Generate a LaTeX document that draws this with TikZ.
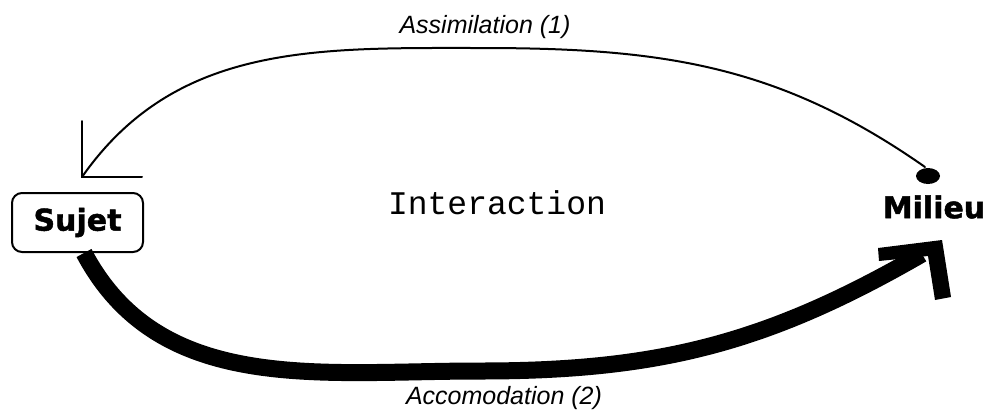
\documentclass[tikz,border=0pt]{standalone}
\usepackage{fontspec}
\setmainfont{Liberation Sans}
\newfontfamily\monof{Liberation Mono}
\newfontfamily\boldf[FakeBold=1.5]{DejaVu Sans Bold}
\begin{document}
\begin{tikzpicture}[x=1pt,y=1pt,
  lbl/.style={font=\itshape\fontsize{25}{25}\selectfont, inner sep=0pt},
  big/.style={font=\boldf\fontsize{30}{30}\selectfont, inner sep=0pt},
  thin/.style={line width=2pt, line cap=round},
  thick/.style={line width=17pt}]
\useasboundingbox (0,0) rectangle (987,-416);
\node[big, draw, line width=2pt, rounded corners=10pt, minimum width=131pt, minimum height=59pt] (sujet) at (77.5,-222.5) {Sujet};
\node[big] (milieu) at (934,-207) {Milieu};
\node[font=\monof\fontsize{33}{33}\selectfont, inner sep=0pt] (inter) at (497,-203) {Interaction};
\node[lbl] (assim) at (485,-27) {Assimilation (1)};
\node[lbl] (accom) at (504,-398) {Accomodation (2)};
% thin arc
\coordinate (tip) at (82,-177);
\coordinate (top) at (480,-48);
\coordinate (dotc) at (928,-176);
\coordinate (dend) at (925,-167);
\draw[thin] (tip) to[out=55,in=180] (top) to[out=0,in=145] (dend);
\fill (dotc) ellipse [x radius=12pt, y radius=8pt];
\draw[thin] (82,-121) -- (tip) -- (142,-177);
% thick arc
\coordinate (ts) at (84,-253);
\coordinate (tb) at (480,-371);
\coordinate (te) at (922,-254);
\draw[thick] (ts) to[out=-62,in=180] (tb) to[out=0,in=-150] (te);
\fill (878,-248) -- (942,-240) -- (951,-297) -- (935,-300) -- (928,-256) -- (879,-261) -- cycle;
\end{tikzpicture}
\end{document}
